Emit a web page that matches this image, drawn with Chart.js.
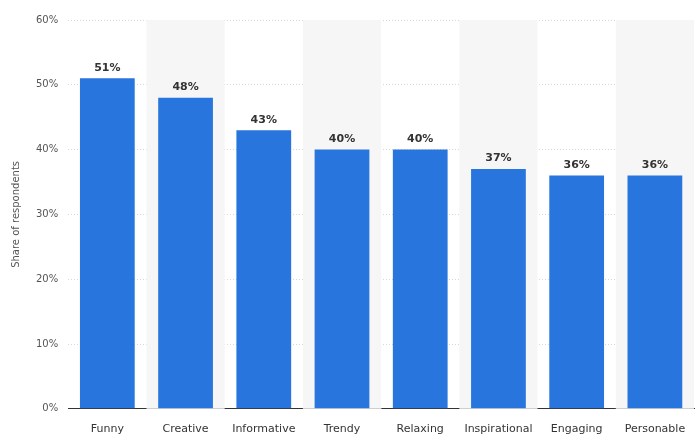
<!DOCTYPE html>
<html><head><meta charset="utf-8">
<script src="https://cdn.jsdelivr.net/npm/chart.js@4"></script>
<style>html,body{margin:0;padding:0;background:#fff}#w{width:700px;height:448px}</style>
</head><body><div id="w"><canvas id="c"></canvas></div>
<script>
const categories=["Funny","Creative","Informative","Trendy","Relaxing","Inspirational","Engaging","Personable"];
const values=[51,48,43,40,40,37,36,36];
const yTicks=[0,10,20,30,40,50,60];
const plug={id:'p',
beforeDatasetsDraw(ch){const {ctx,chartArea:a,scales:{x}}=ch;ctx.save();ctx.fillStyle='#f6f6f6';
const w=(a.right-a.left)/categories.length;
categories.forEach((c,i)=>{if(i%2===1)ctx.fillRect(x.getPixelForValue(i)-w/2,a.top,w,a.bottom-a.top);});ctx.restore();},
afterDatasetsDraw(ch){const {ctx}=ch;const m=ch.getDatasetMeta(0);ctx.save();ctx.font='bold 11px "DejaVu Sans"';ctx.fillStyle='#333';ctx.textAlign='center';ctx.textBaseline='bottom';
m.data.forEach((b,i)=>ctx.fillText(values[i]+'%',b.x,b.y-5));ctx.restore();}};
new Chart(document.getElementById('c'),{type:'bar',data:{labels:categories,datasets:[{data:values,backgroundColor:'#2876dd',categoryPercentage:0.7,barPercentage:1}]},
options:{responsive:true,maintainAspectRatio:false,animation:false,layout:{padding:{top:20,right:6,left:6,bottom:6}},
plugins:{legend:{display:false},tooltip:{enabled:false}},
scales:{x:{grid:{display:false},border:{color:'#333'},ticks:{color:'#333',padding:6,font:{size:11,family:'DejaVu Sans'}}},
y:{min:0,max:60,afterBuildTicks(s){s.ticks=yTicks.map(v=>({value:v}));},grid:{color:'#d8d8d8',drawTicks:false},border:{display:false,dash:[1,2]},
ticks:{color:'#555',padding:10,font:{size:10,family:'DejaVu Sans'},callback:v=>v+'%'},
title:{display:true,text:'Share of respondents',color:'#555',font:{size:10,family:'DejaVu Sans'}}}}},plugins:[plug]});
</script></body></html>
